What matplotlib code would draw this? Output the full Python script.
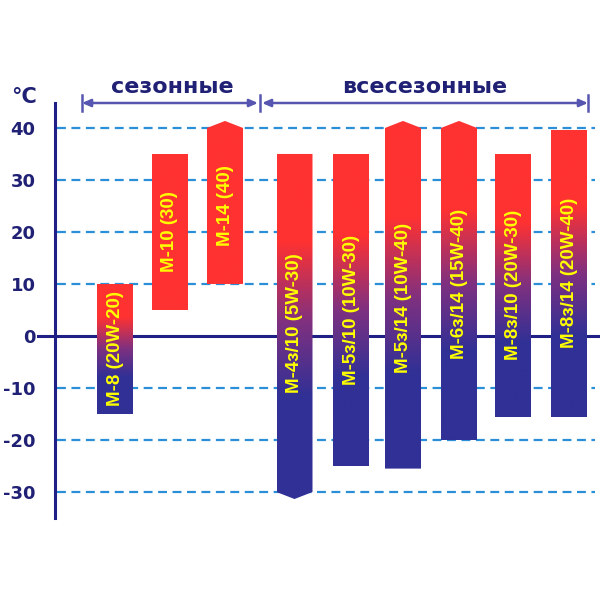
import numpy as np
import matplotlib
matplotlib.use("Agg")
import matplotlib.pyplot as plt
from matplotlib.colors import LinearSegmentedColormap
from matplotlib.patches import Polygon

# oil grades: temperature range of use, degrees C
names = ["М-8 (20W-20)", "М-10 (30)", "М-14 (40)",
         "М-4з/10 (5W-30)", "М-5з/10 (10W-30)", "М-5з/14 (10W-40)",
         "М-6з/14 (15W-40)", "М-8з/10 (20W-30)", "М-8з/14 (20W-40)"]
t_low = [-15, 5, 10, -30, -25, -25.5, -20, -15.5, -15.5]
t_high = [10, 35, 40, 35, 35, 40, 40, 35, 39.6]
open_top = [False, False, True, False, False, True, True, False, False]
open_bottom = [False, False, False, True, False, False, False, False, False]
groups = ["сезонные", "всесезонные"]
yticks = [40, 30, 20, 10, 0, -10, -20, -30]
yticklabels = ["40", "30", "20", "10", "0", "-10", "-20", "-30"]

NAVY = "#1f1f85"
TEXT = "#202075"
GRID = "#2a8fd6"
cmap = LinearSegmentedColormap.from_list(
    "oil", [(0, "#ff3232"), (0.26, "#ff3232"), (0.5, "#7f3080"),
            (0.72, "#303096"), (1, "#303096")])

# layout, pixel-like x units
xpos = [115, 170, 225, 294.5, 351, 403, 459, 513, 569]
hw = 18
tip = 1.35

fig = plt.figure(figsize=(6, 6), dpi=100)
ax = fig.add_axes([55/600, 1-518/600, 545/600, 415/600])

for v in yticks:
    if v != 0:
        ax.hlines(v, 57, 595, colors=GRID, linestyles=(0, (4, 2.5)), lw=1.6, zorder=0.5)
ax.hlines(0, 55, 600, colors=NAVY, lw=2.2, zorder=0.6)
ax.plot([38, 56], [0, 0], color=NAVY, lw=2.2, clip_on=False, zorder=0.6)

for i in range(len(names)):
    x, lo, hi = xpos[i], t_low[i], t_high[i]
    verts = [(x-hw, lo), (x-hw, hi)]
    if open_top[i]:
        verts.append((x, hi+tip))
    verts += [(x+hw, hi), (x+hw, lo)]
    if open_bottom[i]:
        verts.append((x, lo-tip))
    poly = Polygon(verts, closed=True, facecolor="none", edgecolor="none",
                   transform=ax.transData)
    ax.add_patch(poly)
    yy = np.linspace(lo-tip, hi+tip, 300)
    if lo >= 0:
        frac = np.zeros_like(yy)
    else:
        frac = np.clip((hi-yy)/(hi-lo), 0, 1)
    im = ax.imshow(frac[:, None], cmap=cmap, vmin=0, vmax=1, origin="lower",
                   extent=(x-hw, x+hw, lo-tip, hi+tip), aspect="auto",
                   interpolation="bilinear", zorder=3)
    im.set_clip_path(poly)
    ax.text(x, (lo+hi)/2, names[i], rotation=90, ha="center", va="center",
            color="#ffff00", fontsize=13.5, fontweight="bold",
            family="Liberation Sans", zorder=4)

ax.set_xlim(55, 600)
ax.set_ylim(-35, 44.8)
for s in ["top", "right", "bottom"]:
    ax.spines[s].set_visible(False)
ax.spines["left"].set_color(NAVY)
ax.spines["left"].set_linewidth(2.2)
ax.set_xticks([])
ax.set_yticks(yticks, yticklabels)
ax.tick_params(axis="y", length=0, pad=14, labelsize=13, labelcolor=TEXT)
for lab in ax.get_yticklabels():
    lab.set_fontweight("bold")

# group brackets
ytop = 44.8
for xa, xb in [(82, 258), (262, 588)]:
    ax.annotate("", xy=(xa, ytop), xytext=(xb, ytop), annotation_clip=False,
                arrowprops=dict(arrowstyle="<|-|>,head_length=0.5,head_width=0.22",
                                color="#5656b0", lw=1.8, shrinkA=0, shrinkB=0))
for xv in [82, 260, 588]:
    ax.plot([xv, xv], [ytop-1.6, ytop+1.6], color="#5656b0", lw=1.8, clip_on=False)
ax.text(172, 47.9, groups[0], ha="center", va="center", fontsize=16,
        fontweight="bold", color=TEXT, clip_on=False)
ax.text(425, 47.9, groups[1], ha="center", va="center", fontsize=16,
        fontweight="bold", color=TEXT, clip_on=False)
ax.text(24, 46.0, "°C", ha="center", va="center", fontsize=15,
        fontweight="bold", color=TEXT, clip_on=False)

fig.savefig("out.png", dpi=100)
